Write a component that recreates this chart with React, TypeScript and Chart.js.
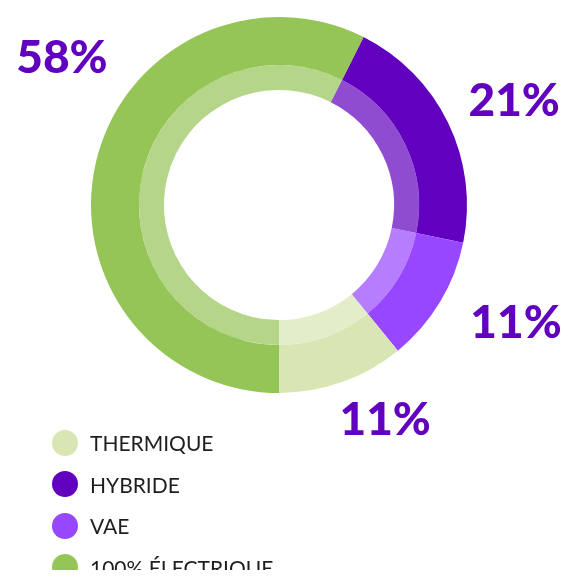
import React, { useEffect, useRef } from 'react';
import { Chart, registerables } from 'chart.js';

Chart.register(...registerables);

// Segments in clockwise drawing order
const categories = ['HYBRIDE', 'VAE', 'THERMIQUE', '100% ÉLECTRIQUE'];
const shares = [21, 11, 11, 58];
const percentLabels = ['21%', '11%', '11%', '58%'];
const segmentColors = ['#6100BE', '#9747FF', '#D8E6B4', '#95C457'];
// Legend order as shown
const legendOrder = ['THERMIQUE', 'HYBRIDE', 'VAE', '100% ÉLECTRIQUE'];

const PURPLE = '#6100BE';

function hexToRgba(hex: string, a: number) {
  const n = parseInt(hex.slice(1), 16);
  return `rgba(${(n >> 16) & 255}, ${(n >> 8) & 255}, ${n & 255}, ${a})`;
}

// label placement tweaks (degrees around mid-angle, radius factor of outer radius)
const labelNudgeDeg = [1.6, -5.1, -6.9, 21];
const labelRadiusFactor = [1.372, 1.404, 1.266, 1.399];

const pctLabelPlugin = {
  id: 'pctLabels',
  afterDatasetsDraw(chart: any) {
    const meta = chart.getDatasetMeta(0);
    const ctx = chart.ctx;
    const fontSize = 46;
    ctx.save();
    ctx.font = `900 ${fontSize}px Lato, "Noto Sans", sans-serif`;
    ctx.fillStyle = PURPLE;
    ctx.textAlign = 'center';
    ctx.textBaseline = 'alphabetic';
    meta.data.forEach((arc: any, i: number) => {
      const { x, y, startAngle, endAngle, outerRadius } = arc.getProps(
        ['x', 'y', 'startAngle', 'endAngle', 'outerRadius'],
        true
      );
      const mid = (startAngle + endAngle) / 2 + (labelNudgeDeg[i] * Math.PI) / 180;
      const r = outerRadius * labelRadiusFactor[i];
      const px = x + Math.cos(mid) * r;
      const py = y + Math.sin(mid) * r;
      ctx.fillText(percentLabels[i], px, py + fontSize * 0.36);
    });
    ctx.restore();
  },
};

export default function App() {
  const canvasRef = useRef<HTMLCanvasElement | null>(null);

  useEffect(() => {
    if (!canvasRef.current) return;
    const total = shares.reduce((a, b) => a + b, 0);
    const beforeElectric = shares.slice(0, 3).reduce((a, b) => a + b, 0);
    const rotation = 180 - (beforeElectric / total) * 360;
    const chart = new Chart(canvasRef.current, {
      type: 'doughnut',
      data: {
        labels: categories,
        datasets: [
          {
            data: shares,
            backgroundColor: segmentColors,
            borderWidth: 0,
            weight: 48,
          },
          {
            data: shares,
            backgroundColor: segmentColors.map((c) => hexToRgba(c, 0.7)),
            borderWidth: 0,
            weight: 25,
          },
        ],
      },
      options: {
        responsive: false,
        animation: false,
        rotation,
        cutout: '61.2%',
        layout: { padding: { left: 83, right: 94, top: 9, bottom: 177 } },
        plugins: {
          legend: { display: false },
          tooltip: { enabled: false },
        },
      },
      plugins: [pctLabelPlugin],
    });
    return () => chart.destroy();
  }, []);

  return (
    <div style={{ position: 'relative', width: 553, height: 562, overflow: 'hidden' }}>
      <canvas ref={canvasRef} width={553} height={562} style={{ display: 'block' }} />
      <div
        style={{
          position: 'absolute',
          left: 44,
          top: 414,
          fontFamily: 'Lato, "Noto Sans", sans-serif',
          fontSize: 21,
          color: '#1e1e1e',
        }}
      >
        {legendOrder.map((name) => {
          const idx = categories.indexOf(name);
          return (
            <div key={name} style={{ display: 'flex', alignItems: 'center', height: 41.5 }}>
              <span
                style={{
                  width: 26,
                  height: 26,
                  borderRadius: '50%',
                  background: segmentColors[idx],
                  display: 'inline-block',
                  marginRight: 12,
                  flexShrink: 0,
                }}
              />
              <span style={{ whiteSpace: 'nowrap' }}>{name}</span>
            </div>
          );
        })}
      </div>
    </div>
  );
}
